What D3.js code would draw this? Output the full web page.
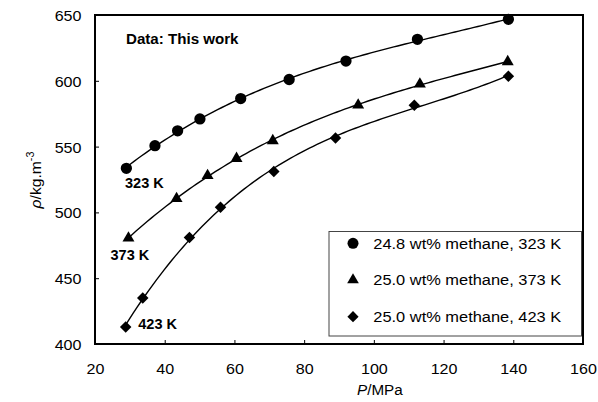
<!DOCTYPE html>
<html>
<head>
<meta charset="utf-8">
<script src="https://cdn.jsdelivr.net/npm/d3@7"></script>
<style>
  html, body { margin: 0; padding: 0; background: #fff; }
  svg { display: block; font-family: "Liberation Sans", Arial, sans-serif; }
</style>
</head>
<body>
<svg id="chart" width="598" height="402"></svg>
<script>
// Density of methane mixtures vs pressure at three temperatures
const P323 = [29.0, 37.2, 43.7, 50.1, 61.8, 75.7, 92.0, 112.5, 138.6];
const rho323 = [533.5, 550.7, 562.0, 571.0, 586.5, 601.0, 615.0, 631.5, 646.7];
const P373 = [29.6, 43.4, 52.3, 60.6, 71.0, 95.5, 113.2, 138.4];
const rho373 = [480.5, 510.5, 528.0, 541.0, 554.5, 581.5, 597.5, 614.5];
const P423 = [28.8, 33.7, 47.1, 56.0, 71.3, 89.0, 111.6, 138.6];
const rho423 = [413.0, 435.0, 481.0, 504.0, 531.0, 556.5, 581.5, 603.5];

const xTicks = [20, 40, 60, 80, 100, 120, 140, 160];
const yTicks = [400, 450, 500, 550, 600, 650];
const legendLabels = ["24.8 wt% methane, 323 K", "25.0 wt% methane, 373 K", "25.0 wt% methane, 423 K"];
const curveLabels = ["323 K", "373 K", "423 K"];

const series = [
  { P: P323, rho: rho323, symbol: d3.symbolCircle, size: 100, rot: 0, label: curveLabels[0], legend: legendLabels[0] },
  { P: P373, rho: rho373, symbol: d3.symbolTriangle, size: 62, rot: 0, label: curveLabels[1], legend: legendLabels[1] },
  { P: P423, rho: rho423, symbol: d3.symbolSquare, size: 66, rot: 45, label: curveLabels[2], legend: legendLabels[2] }
];

const svg = d3.select("#chart");
const plotL = 95, plotR = 583, plotT = 15, plotB = 344;
const wide = 1.15; // horizontal stretch of the typeface

const x = d3.scaleLinear().domain([20, 160]).range([plotL, plotR]);
const y = d3.scaleLinear().domain([400, 650]).range([plotB, plotT]);

// least-squares polynomial trendline
function polyFit(xs, ys, order) {
  const n = order + 1;
  const xm = d3.mean(xs), xsd = d3.deviation(xs);
  const u = xs.map(v => (v - xm) / xsd);
  const A = Array.from({ length: n }, () => new Array(n + 1).fill(0));
  u.forEach((xv, k) => {
    for (let i = 0; i < n; i++) {
      for (let j = 0; j < n; j++) A[i][j] += Math.pow(xv, i + j);
      A[i][n] += ys[k] * Math.pow(xv, i);
    }
  });
  for (let i = 0; i < n; i++) {
    let p = i;
    for (let r = i + 1; r < n; r++) if (Math.abs(A[r][i]) > Math.abs(A[p][i])) p = r;
    [A[i], A[p]] = [A[p], A[i]];
    for (let r = 0; r < n; r++) {
      if (r === i) continue;
      const f = A[r][i] / A[i][i];
      for (let c = i; c <= n; c++) A[r][c] -= f * A[i][c];
    }
  }
  const coef = A.map((row, i) => row[n] / row[i]);
  return xv => {
    const t = (xv - xm) / xsd;
    return coef.reduce((s, c, i) => s + c * Math.pow(t, i), 0);
  };
}

const line = d3.line().x(d => x(d[0])).y(d => y(d[1]));

series.forEach(s => {
  const f = polyFit(s.P, s.rho, 3);
  const x0 = d3.min(s.P), x1 = d3.max(s.P);
  const pts = d3.range(0, 101).map(i => {
    const xv = x0 + (x1 - x0) * i / 100;
    return [xv, f(xv)];
  });
  svg.append("path").attr("d", line(pts))
    .attr("fill", "none").attr("stroke", "#000").attr("stroke-width", 1.4);
});

series.forEach(s => {
  svg.append("g").selectAll("path")
    .data(s.P.map((p, i) => [p, s.rho[i]]))
    .join("path")
    .attr("transform", d => `translate(${x(d[0])},${y(d[1])}) rotate(${s.rot})`)
    .attr("d", d3.symbol().type(s.symbol).size(s.size))
    .attr("fill", "#000");
});

// axes with inward ticks
const xAxis = d3.axisBottom(x).tickValues(xTicks).tickSizeInner(-4).tickSizeOuter(0);
const gx = svg.append("g").attr("transform", `translate(0,${plotB})`).call(xAxis);
const yAxis = d3.axisLeft(y).tickValues(yTicks).tickSizeInner(-4).tickSizeOuter(0);
const gy = svg.append("g").attr("transform", `translate(${plotL},0)`).call(yAxis);
[gx, gy].forEach(g => {
  g.select(".domain").remove();
  g.selectAll("line").attr("stroke", "#000").attr("stroke-width", 1);
  g.selectAll("text").attr("font-size", 14).attr("fill", "#000")
    .attr("font-family", "Liberation Sans, Arial, sans-serif");
});
gx.selectAll("text").attr("y", 0).attr("dy", 0)
  .attr("transform", `translate(0,30) scale(${wide},1)`);
gy.selectAll("text").attr("x", 0).attr("dy", "0.36em")
  .attr("transform", `translate(-13.5,0.5) scale(${wide},1)`);

// frame
svg.append("rect").attr("x", plotL).attr("y", plotT)
  .attr("width", plotR - plotL).attr("height", plotB - plotT)
  .attr("fill", "none").attr("stroke", "#000").attr("stroke-width", 2);

// annotations
svg.append("text").attr("transform", `translate(126,43.5) scale(1.08,1)`)
  .attr("font-size", 14).attr("font-weight", "bold").text("Data: This work");
const labelPos = [[125, 187.5], [110.5, 260], [138.3, 329]];
series.forEach((s, i) => {
  svg.append("text").attr("x", labelPos[i][0]).attr("y", labelPos[i][1])
    .attr("font-size", 14.5).attr("font-weight", "bold").text(s.label);
});

// legend
const lg = svg.append("g");
lg.append("rect").attr("x", 329).attr("y", 231.5).attr("width", 252.5).attr("height", 104.5)
  .attr("fill", "#fff").attr("stroke", "#444").attr("stroke-width", 1);
series.forEach((s, i) => {
  const cy = 243.3 + i * 36.7;
  lg.append("path").attr("transform", `translate(353,${cy}) rotate(${s.rot})`)
    .attr("d", d3.symbol().type(s.symbol).size(s.size * 0.95)).attr("fill", "#000");
  lg.append("text").attr("transform", `translate(373.3,${cy + 5.3}) scale(1.066,1)`)
    .attr("font-size", 15.4).text(s.legend);
});

// axis titles
const xt = svg.append("text").attr("transform", "translate(357,395) scale(1.05,1)").attr("font-size", 14.5);
xt.append("tspan").attr("font-style", "italic").text("P");
xt.append("tspan").text("/MPa");

const yt = svg.append("text").attr("transform", "translate(41,180) rotate(-90) scale(1.08,1)")
  .attr("text-anchor", "middle").attr("font-size", 14.5);
yt.append("tspan").attr("font-style", "italic").text("ρ");
yt.append("tspan").text("/kg.m");
yt.append("tspan").attr("font-size", 10).attr("dy", -7).text("-3");
</script>
</body>
</html>
